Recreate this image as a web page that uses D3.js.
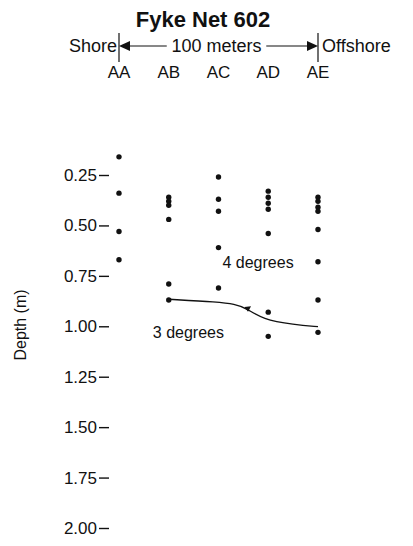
<html>
<head>
<script src="https://cdn.jsdelivr.net/npm/d3@7"></script>
<style>
  body { margin: 0; background: #fff; }
  text { font-family: "Liberation Sans", Arial, sans-serif; fill: #111; }
</style>
</head>
<body>
<svg width="413" height="546"></svg>
<script>
// Data
var stations = ["AA", "AB", "AC", "AD", "AE"];
var stationDist = [0, 25, 50, 75, 100];           // meters from shore
var sampleDepths = [
  [0.16, 0.34, 0.53, 0.67],
  [0.36, 0.38, 0.40, 0.47, 0.79, 0.87],
  [0.26, 0.37, 0.43, 0.61, 0.81],
  [0.33, 0.36, 0.39, 0.42, 0.54, 0.93, 1.05],
  [0.36, 0.38, 0.41, 0.43, 0.52, 0.68, 0.87, 1.03]
];
var depthTicks = [0.25, 0.50, 0.75, 1.00, 1.25, 1.50, 1.75, 2.00];
var iso3Dist = [25, 50, 58, 64, 72, 88, 100];
var iso3Depth = [0.866, 0.880, 0.890, 0.910, 0.965, 0.992, 1.002];

var svg = d3.select("svg");

var x = d3.scaleLinear().domain([0, 100]).range([119, 318]);
var y = d3.scaleLinear().domain([0.25, 2.0]).range([175, 528]);

// Title
svg.append("text")
  .attr("x", 203).attr("y", 27)
  .attr("text-anchor", "middle")
  .style("font-size", "22px").style("font-weight", "bold")
  .text("Fyke Net 602");

// Shore / offshore header
var hy = 46;
[0, 100].forEach(function(d) {
  svg.append("line").attr("x1", x(d)).attr("x2", x(d)).attr("y1", 33).attr("y2", 62)
    .attr("stroke", "#111").attr("stroke-width", 1.2);
});
svg.append("text").attr("x", x(0) - 2).attr("y", hy + 6)
  .attr("text-anchor", "end").style("font-size", "18px").text("Shore");
svg.append("text").attr("x", x(100) + 4).attr("y", hy + 6)
  .style("font-size", "18px").text("Offshore");
svg.append("text").attr("x", x(49)).attr("y", hy + 6)
  .attr("text-anchor", "middle").style("font-size", "18px").text("100 meters");
svg.append("line").attr("x1", x(0) + 8).attr("x2", x(24)).attr("y1", hy).attr("y2", hy)
  .attr("stroke", "#111").attr("stroke-width", 1);
svg.append("line").attr("x1", x(74)).attr("x2", x(100) - 8).attr("y1", hy).attr("y2", hy)
  .attr("stroke", "#111").attr("stroke-width", 1.2);
svg.append("path")
  .attr("d", "M" + x(0) + "," + hy + "l11,-5l0,10z").attr("fill", "#111");
svg.append("path")
  .attr("d", "M" + x(100) + "," + hy + "l-11,-5l0,10z").attr("fill", "#111");

// Station labels
svg.selectAll(".station").data(stations).enter().append("text")
  .attr("class", "station")
  .attr("x", function(d, i) { return x(stationDist[i]); })
  .attr("y", 78)
  .attr("text-anchor", "middle")
  .style("font-size", "17px")
  .text(function(d) { return d; });

// Depth axis
var axis = d3.axisLeft(y)
  .tickValues(depthTicks)
  .tickFormat(d3.format(".2f"))
  .tickSize(10)
  .tickPadding(2);
var ag = svg.append("g").attr("transform", "translate(109,0)").call(axis);
ag.select(".domain").remove();
ag.selectAll(".tick line").attr("stroke", "#111").attr("stroke-width", 1.4)
  .attr("x1", 0).attr("x2", -10);
ag.selectAll(".tick text")
  .style("font-family", "'Liberation Sans', Arial, sans-serif")
  .style("font-size", "17px").attr("fill", "#111");

svg.append("text")
  .attr("transform", "translate(26,325) rotate(-90)")
  .attr("text-anchor", "middle")
  .style("font-size", "16px")
  .text("Depth (m)");

// Sample points
var pts = [];
sampleDepths.forEach(function(arr, i) {
  arr.forEach(function(dep) { pts.push({ dist: stationDist[i], depth: dep }); });
});
svg.selectAll(".pt").data(pts).enter().append("circle")
  .attr("class", "pt")
  .attr("cx", function(d) { return x(d.dist); })
  .attr("cy", function(d) { return y(d.depth); })
  .attr("r", 2.7)
  .attr("fill", "#111");

// 3 degree isotherm
var iso = iso3Dist.map(function(d, i) { return [x(d), y(iso3Depth[i])]; });
svg.append("path")
  .attr("d", d3.line().curve(d3.curveBasis)(iso))
  .attr("fill", "none").attr("stroke", "#111").attr("stroke-width", 1.3);
// small arrowhead on the line
var ax = x(63), ay = y(0.905);
svg.append("path")
  .attr("d", "M0,0l6,-3l-1,6z")
  .attr("transform", "translate(" + ax + "," + ay + ") rotate(20)")
  .attr("fill", "#111");

svg.append("text").attr("x", x(52)).attr("y", y(0.684) + 5.5)
  .style("font-size", "16px").text("4 degrees");
svg.append("text").attr("x", x(17)).attr("y", y(1.03) + 5.5)
  .style("font-size", "16px").text("3 degrees");
</script>
</body>
</html>
